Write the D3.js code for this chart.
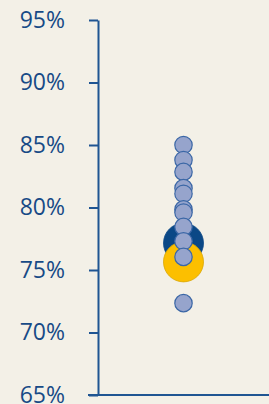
<!DOCTYPE html>
<meta charset="utf-8">
<script src="https://d3js.org/d3.v7.min.js"></script>
<style>
  body { margin: 0; background: #f3f0e7; }
</style>
<div id="my_dataviz"></div>
<script>

// data
var groups = ["A"];
var smallValues = [85.0, 83.8, 82.85, 81.55, 81.1, 79.85, 79.6, 78.45, 77.3, 76.05, 72.35];
var bigValues = [77.15, 75.65];
var bigColors = ["#0b4886", "#fcbf00"];
var yTicks = [65, 70, 75, 80, 85, 90, 95];

var width = 269, height = 404;
var margin = {top: 20, left: 98, bottom: 9};

var svg = d3.select("#my_dataviz")
  .append("svg")
    .attr("width", width)
    .attr("height", height);

svg.append("rect")
  .attr("width", width)
  .attr("height", height)
  .attr("fill", "#f3f0e7");

var y = d3.scaleLinear()
  .domain([65, 95])
  .range([height - margin.bottom, margin.top]);

var x = d3.scaleBand()
  .domain(groups)
  .range([margin.left, width + 0])
  .paddingOuter(0.05);

// Y axis
var yAxis = svg.append("g")
  .attr("transform", "translate(" + margin.left + ",0)")
  .call(d3.axisLeft(y).tickValues(yTicks).tickSize(9).tickSizeOuter(0).tickPadding(24)
    .tickFormat(function(d) { return d + "%"; }));
yAxis.select(".domain").attr("stroke", "#1f5592").attr("stroke-width", 2);
yAxis.selectAll(".tick line").attr("stroke", "#1f5592").attr("stroke-width", 2);
yAxis.selectAll(".tick text")
  .attr("fill", "#174a86")
  .style("font-family", "'Open Sans', sans-serif")
  .style("font-size", "23px");

// bottom line
svg.append("line")
  .attr("x1", margin.left - 10)
  .attr("x2", width)
  .attr("y1", y(65))
  .attr("y2", y(65))
  .attr("stroke", "#1f5592")
  .attr("stroke-width", 2);

var cx = x("A") + x.bandwidth() / 2;

// big circles
svg.selectAll("bigcircle")
  .data(bigValues)
  .enter()
  .append("circle")
    .attr("cx", cx)
    .attr("cy", function(d) { return y(d); })
    .attr("r", 20)
    .attr("fill", function(d, i) { return bigColors[i]; })
    .attr("stroke", function(d, i) { return i == 0 ? "#0b4886" : "#d9a600"; })
    .attr("stroke-width", 0.8);

// small circles
svg.selectAll("smallcircle")
  .data(smallValues)
  .enter()
  .append("circle")
    .attr("cx", cx)
    .attr("cy", function(d) { return y(d); })
    .attr("r", 8.7)
    .attr("fill", "#96a4cc")
    .attr("stroke", "#3b67a6")
    .attr("stroke-width", 1.2);

</script>
